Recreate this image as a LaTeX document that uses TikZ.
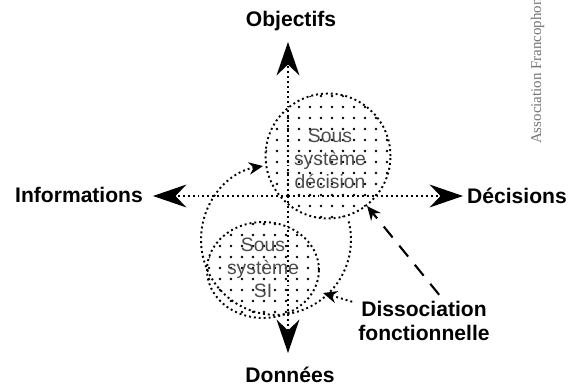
\documentclass[tikz,border=0pt]{standalone}
\usepackage{fontspec}
\setmainfont{Liberation Sans}
\newfontfamily\wmfont{Liberation Serif}
\usetikzlibrary{arrows.meta,shapes.geometric}

\begin{document}
\begin{tikzpicture}[x=0.02cm, y=-0.02cm,
  every node/.style={font=\bfseries\fontsize{12}{14}\selectfont},
  pointille/.style={line width=1.1pt, dash pattern=on 1.1pt off 1.7pt},
  fleche/.style={-{Stealth[length=19pt,width=13pt]}},
  bulle/.style={draw, pointille, inner sep=0pt},
  interne/.style={font=\fontsize{11}{13}\selectfont, text=black!70, align=center}]

  \useasboundingbox (0,0) rectangle (576,389);

  % Trame des sous-systemes
  \begin{scope}
    \clip (328,156) circle[radius=1.25cm];
    \foreach \i in {0,...,12}
      \foreach \j in {0,...,12}
        \fill (266+\i*11,96+\j*11) circle[radius=0.75pt];
  \end{scope}
  \begin{scope}
    \clip (263,270) ellipse[x radius=1.12cm, y radius=0.96cm];
    \foreach \i in {0,...,11}
      \foreach \j in {0,...,9}
        \fill (209+\i*11,224+\j*11) circle[radius=0.75pt];
  \end{scope}

  % Sous-systemes
  \node[bulle, circle, minimum size=2.5cm] (haut) at (328,156) {};
  \node[bulle, ellipse, minimum width=2.24cm, minimum height=1.92cm] (bas) at (263,270) {};
  \node[interne] (hautTxt) at (330,159) {Sous\\système\\décision};
  \node[interne] (basTxt) at (263,268) {Sous\\système\\SI};

  % Axes
  \coordinate (c) at (288,196);
  \node (obj) at (291,21) {Objectifs};
  \node (info) at (79,195) {Informations};
  \node (dec) at (517,196) {Décisions};
  \node (don) at (290,375) {Données};
  \coordinate (pN) at (288,42);
  \coordinate (pO) at (153,196);
  \coordinate (pE) at (463,196);
  \coordinate (pS) at (288,353);
  \draw[pointille, fleche] (c) -- (pN);
  \draw[pointille, fleche] (c) -- (pO);
  \draw[pointille, fleche] (c) -- (pE);
  \draw[pointille, fleche] (c) -- (pS);

  % Contour
  \coordinate (ovDeb) at (263,166);
  \draw[pointille, {Stealth[length=8pt,width=7pt]}-] (ovDeb)
    arc[start angle=100, end angle=375, radius=1.5cm];

  % Dissociation
  \node[align=center] (diss) at (424,321) {Dissociation\\fonctionnelle};
  \coordinate (ovPt) at (323,293);
  \draw[line width=1.2pt, dash pattern=on 8pt off 6pt, -{Stealth[length=8pt,width=7pt]}] (diss.60) -- (haut.-52);
  \draw[pointille, -{Stealth[length=8pt,width=7pt]}] (diss.165) -- (ovPt);

  % Filigrane
  \node[font=\wmfont\fontsize{8.5}{10}\selectfont, text=black!55, rotate=90, anchor=base west] (wm) at (541,150) {Association Francophone};
\end{tikzpicture}
\end{document}
